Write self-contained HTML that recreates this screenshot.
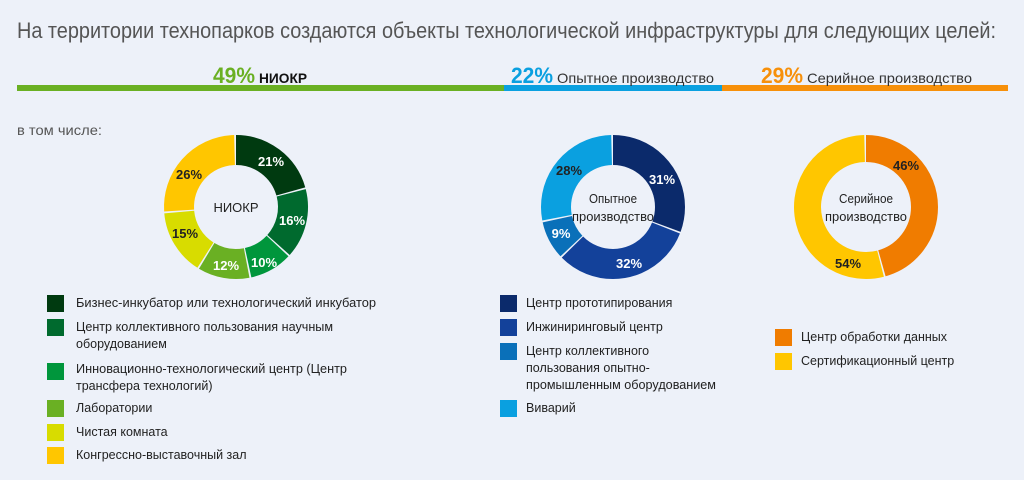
<!DOCTYPE html>
<html><head><meta charset="utf-8"><style>
body{margin:0;background:#edf1f9;}
svg{display:block;font-family:"Liberation Sans","DejaVu Sans",sans-serif;}
.pl{font-size:13px;font-weight:bold;text-anchor:middle;}
.lg{font-size:12.5px;fill:#222;}
</style></head><body>
<svg width="1024" height="480" viewBox="0 0 1024 480">
<rect width="1024" height="480" fill="#edf1f9"/>
<text x="17" y="38" font-size="22" fill="#555" textLength="979" lengthAdjust="spacingAndGlyphs">На территории технопарков создаются объекты технологической инфраструктуры для следующих целей:</text>
<rect x="17" y="85" width="487" height="6" fill="#6ab023"/>
<rect x="504" y="85" width="218" height="6" fill="#0aa0e0"/>
<rect x="722" y="85" width="286" height="6" fill="#f7900a"/>
<text x="213" y="83" font-size="22" font-weight="bold" fill="#6ab023" textLength="42" lengthAdjust="spacingAndGlyphs">49%</text>
<text x="259" y="83" font-size="14" font-weight="bold" fill="#111" textLength="48" lengthAdjust="spacingAndGlyphs">НИОКР</text>
<text x="511" y="83" font-size="22" font-weight="bold" fill="#0aa0e0" textLength="42" lengthAdjust="spacingAndGlyphs">22%</text>
<text x="557" y="83" font-size="14" fill="#333" textLength="157" lengthAdjust="spacingAndGlyphs">Опытное производство</text>
<text x="761" y="83" font-size="22" font-weight="bold" fill="#f7900a" textLength="42" lengthAdjust="spacingAndGlyphs">29%</text>
<text x="807" y="83" font-size="14" fill="#333" textLength="165" lengthAdjust="spacingAndGlyphs">Серийное производство</text>
<text x="17" y="135" font-size="14" fill="#555" textLength="85" lengthAdjust="spacingAndGlyphs">в том числе:</text>

<g fill="none" stroke-width="30">
<circle cx="236" cy="207" r="57" stroke="#003a10" stroke-dasharray="73.7 400" transform="rotate(-90 236 207)"/>
<circle cx="236" cy="207" r="57" stroke="#006a2e" stroke-dasharray="55.8 400" transform="rotate(-14.4 236 207)"/>
<circle cx="236" cy="207" r="57" stroke="#00963c" stroke-dasharray="34.3 400" transform="rotate(43.2 236 207)"/>
<circle cx="236" cy="207" r="57" stroke="#6ab023" stroke-dasharray="41.5 400" transform="rotate(79.2 236 207)"/>
<circle cx="236" cy="207" r="57" stroke="#d8dc00" stroke-dasharray="52.2 400" transform="rotate(122.4 236 207)"/>
<circle cx="236" cy="207" r="57" stroke="#ffc600" stroke-dasharray="91.6 400" transform="rotate(176.4 236 207)"/>
<circle cx="613" cy="207" r="57" stroke="#0b2a6b" stroke-dasharray="109.5 400" transform="rotate(-90 613 207)"/>
<circle cx="613" cy="207" r="57" stroke="#13419a" stroke-dasharray="113.1 400" transform="rotate(21.6 613 207)"/>
<circle cx="613" cy="207" r="57" stroke="#0a70b9" stroke-dasharray="30.7 400" transform="rotate(136.8 613 207)"/>
<circle cx="613" cy="207" r="57" stroke="#0aa0e0" stroke-dasharray="98.8 400" transform="rotate(169.2 613 207)"/>
</g>
<g fill="none" stroke-width="27">
<circle cx="866" cy="207" r="58.5" stroke="#f07c00" stroke-dasharray="167.6 400" transform="rotate(-90 866 207)"/>
<circle cx="866" cy="207" r="58.5" stroke="#ffc600" stroke-dasharray="197 400" transform="rotate(75.6 866 207)"/>
</g>
<g class="pl">
<text x="271" y="166" fill="#fff">21%</text>
<text x="292" y="225" fill="#fff">16%</text>
<text x="264" y="267" fill="#fff">10%</text>
<text x="226" y="270" fill="#fff">12%</text>
<text x="185" y="238" fill="#222">15%</text>
<text x="189" y="179" fill="#222">26%</text>
<text x="662" y="184" fill="#fff">31%</text>
<text x="629" y="268" fill="#fff">32%</text>
<text x="561" y="238" fill="#fff">9%</text>
<text x="569" y="175" fill="#222">28%</text>
<text x="906" y="170" fill="#222">46%</text>
<text x="848" y="268" fill="#222">54%</text>
</g>
<g font-size="13" fill="#222" text-anchor="middle">
<text x="236" y="212">НИОКР</text>
<text x="613" y="203" textLength="48" lengthAdjust="spacingAndGlyphs">Опытное</text>
<text x="613" y="221" textLength="82" lengthAdjust="spacingAndGlyphs">производство</text>
<text x="866" y="203" textLength="54" lengthAdjust="spacingAndGlyphs">Серийное</text>
<text x="866" y="221" textLength="82" lengthAdjust="spacingAndGlyphs">производство</text>
</g>

<rect x="47" y="295" width="17" height="17" fill="#003a10"/>
<rect x="47" y="319" width="17" height="17" fill="#006a2e"/>
<rect x="47" y="363" width="17" height="17" fill="#00963c"/>
<rect x="47" y="400" width="17" height="17" fill="#6ab023"/>
<rect x="47" y="424" width="17" height="17" fill="#d8dc00"/>
<rect x="47" y="447" width="17" height="17" fill="#ffc600"/>
<g class="lg">
<text x="76" y="307" textLength="300" lengthAdjust="spacingAndGlyphs">Бизнес-инкубатор или технологический инкубатор</text>
<text x="76" y="331" textLength="257" lengthAdjust="spacingAndGlyphs">Центр коллективного пользования научным</text>
<text x="76" y="348">оборудованием</text>
<text x="76" y="373" textLength="271" lengthAdjust="spacingAndGlyphs">Инновационно-технологический центр (Центр</text>
<text x="76" y="390">трансфера технологий)</text>
<text x="76" y="412">Лаборатории</text>
<text x="76" y="436">Чистая комната</text>
<text x="76" y="459">Конгрессно-выставочный зал</text>
</g>

<rect x="500" y="295" width="17" height="17" fill="#0b2a6b"/>
<rect x="500" y="319" width="17" height="17" fill="#13419a"/>
<rect x="500" y="343" width="17" height="17" fill="#0a70b9"/>
<rect x="500" y="400" width="17" height="17" fill="#0aa0e0"/>
<g class="lg">
<text x="526" y="307">Центр прототипирования</text>
<text x="526" y="331">Инжиниринговый центр</text>
<text x="526" y="355">Центр коллективного</text>
<text x="526" y="372">пользования опытно-</text>
<text x="526" y="389" textLength="190" lengthAdjust="spacingAndGlyphs">промышленным оборудованием</text>
<text x="526" y="412">Виварий</text>
</g>

<rect x="775" y="329" width="17" height="17" fill="#f07c00"/>
<rect x="775" y="353" width="17" height="17" fill="#ffc600"/>
<g class="lg">
<text x="801" y="341">Центр обработки данных</text>
<text x="801" y="365">Сертификационный центр</text>
</g>
</svg>
</body></html>
